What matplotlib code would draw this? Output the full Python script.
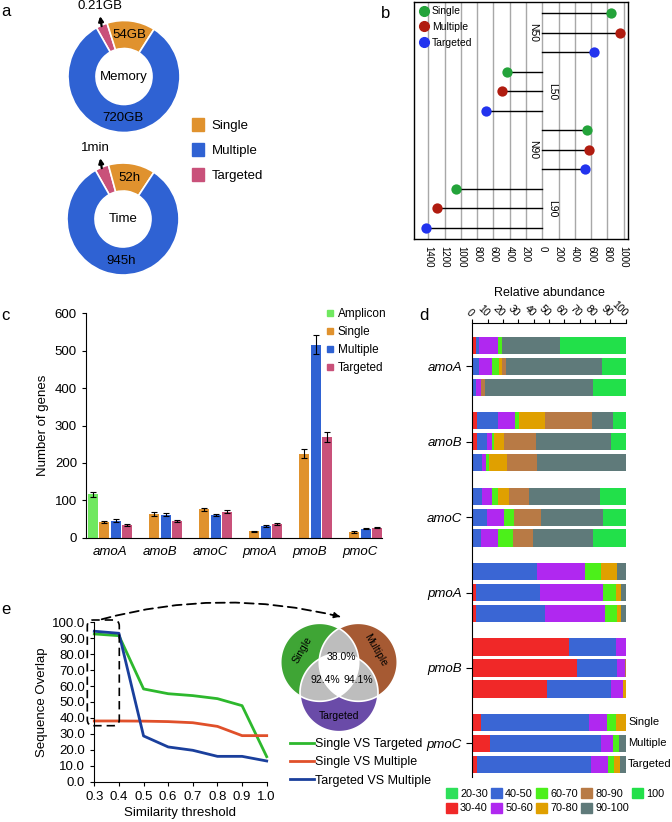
import numpy as np
import matplotlib
matplotlib.use('Agg')
import matplotlib.pyplot as plt
from matplotlib.patches import Patch, Polygon, FancyBboxPatch, FancyArrowPatch
from matplotlib.lines import Line2D

plt.rcParams['font.family'] = ['Liberation Sans', 'DejaVu Sans']

# ---------------- data ----------------
methods = ['Single', 'Multiple', 'Targeted']
# panel a (slice shares as drawn, labels as printed)
a_order = ['Targeted', 'Single', 'Multiple']
mem_shares = [3.3, 13.9, 82.8]
mem_labels = ['0.21GB', '54GB', '720GB']
time_shares = [4.0, 13.5, 82.5]
time_labels = ['1min', '52h', '945h']

# panel b
b_metrics = ['N50', 'L50', 'N90', 'L90']
b_direction = [1, -1, 1, -1]
b_single = [850, 431, 554, 1067]
b_multiple = [953, 496, 575, 1300]
b_targeted = [640, 697, 526, 1432]

# panel c
genes = ['amoA', 'amoB', 'amoC', 'pmoA', 'pmoB', 'pmoC']
c_amplicon = [116, np.nan, np.nan, np.nan, np.nan, np.nan]
c_amplicon_err = [6, 0, 0, 0, 0, 0]
c_single = [41, 64, 76, 17, 224, 15]
c_single_err = [3, 5, 4, 2, 12, 2]
c_multiple = [45, 62, 61, 32, 516, 24]
c_multiple_err = [4, 4, 3, 3, 25, 2]
c_targeted = [34, 44, 70, 37, 270, 27]
c_targeted_err = [2, 3, 5, 2, 13, 2]

# panel d : rows Single / Multiple / Targeted, columns = bins
d_bins = ['20-30', '30-40', '40-50', '50-60', '60-70', '70-80', '80-90', '90-100', '100']
d_amoA = [[0, 2.2, 2.4, 12.0, 2.6, 0, 0, 38.0, 42.8],
          [0, 0, 4.6, 8.5, 4.3, 2.0, 2.4, 63.0, 15.2],
          [0, 0, 2.4, 3.0, 0, 0, 2.8, 70.2, 21.6]]
d_amoB = [[0, 2.8, 13.7, 11.3, 2.6, 17.0, 30.4, 13.9, 8.3],
          [0, 3.3, 6.3, 3.0, 1.3, 6.7, 20.7, 49.1, 9.6],
          [0, 0, 6.5, 2.2, 2.2, 11.5, 19.8, 57.8, 0]]
d_amoC = [[0, 0, 6.5, 6.5, 3.7, 7.0, 13.3, 46.1, 16.9],
          [0, 0, 9.6, 11.3, 6.3, 0, 17.8, 40.2, 14.8],
          [0, 0, 5.7, 11.1, 9.8, 0, 12.8, 39.3, 21.3]]
d_pmoA = [[0, 0, 42.2, 31.3, 10.7, 10.2, 0, 5.6, 0],
          [0, 2.6, 41.3, 41.1, 8.9, 2.8, 0, 3.3, 0],
          [0, 2.4, 45.1, 39.3, 7.8, 2.4, 0, 3.0, 0]]
d_pmoB = [[0, 63.3, 30.4, 6.3, 0, 0, 0, 0, 0],
          [0, 68.5, 26.1, 4.8, 0, 0, 0.6, 0, 0],
          [0, 48.7, 41.5, 8.3, 0, 1.5, 0, 0, 0]]
d_pmoC = [[0, 5.7, 70.6, 11.7, 5.7, 6.3, 0, 0, 0],
          [0, 11.5, 72.3, 8.0, 3.9, 0, 0, 4.3, 0],
          [0, 3.3, 74.3, 10.9, 3.7, 3.9, 0, 3.9, 0]]
d_data = [d_amoA, d_amoB, d_amoC, d_pmoA, d_pmoB, d_pmoC]

# panel e
e_threshold = [0.3, 0.4, 0.5, 0.6, 0.7, 0.8, 0.9, 1.0]
e_single_vs_targeted = [92.7, 91.6, 58.2, 55.2, 54.0, 52.1, 47.7, 15.7]
e_single_vs_multiple = [38.1, 38.1, 38.0, 37.7, 37.0, 34.7, 28.9, 28.9]
e_targeted_vs_multiple = [94.4, 93.1, 28.7, 21.8, 19.7, 15.9, 15.9, 13.0]
venn_labels = ['38.0%', '92.4%', '94.1%']

# ---------------- styles ----------------
C_SINGLE = '#e0922e'
C_MULTI = '#2f62d3'
C_TARG = '#c9517a'
C_AMPL = '#70e860'
a_colors = {'Single': C_SINGLE, 'Multiple': C_MULTI, 'Targeted': C_TARG}
b_colors = ['#23a33a', '#b01c10', '#2233ee']
d_colors = ['#2ee05a', '#f02828', '#3a66d4', '#b028f0', '#4cf01a',
            '#e0a000', '#b87a45', '#5f7a7a', '#22e04a']

W, H = 672, 822
fig = plt.figure(figsize=(W / 100, H / 100), dpi=100)


def px_axes(l, t, r, b):
    return fig.add_axes([l / W, 1 - b / H, (r - l) / W, (b - t) / H])


def ftext(x, y, s, **kw):
    fig.text(x / W, 1 - y / H, s, **kw)


# ---------------- panel a ----------------
def donut(cx, cy, shares, labels, center, tdx):
    ax = px_axes(cx - 60, cy - 60, cx + 60, cy + 60)
    R = 56
    wedges, _ = ax.pie(shares, radius=R, startangle=119.5, counterclock=False,
                       colors=[a_colors[k] for k in a_order],
                       wedgeprops=dict(width=28, edgecolor='white', linewidth=1.2))
    ax.set_xlim(-60, 60)
    ax.set_ylim(-60, 60)
    ax.set_aspect('equal')
    ax.axis('off')
    for w, lab in zip(wedges[1:], labels[1:]):
        th = np.deg2rad((w.theta1 + w.theta2) / 2)
        ax.text(42 * np.cos(th), 42 * np.sin(th), lab, ha='center', va='center', fontsize=9.5)
    w = wedges[0]
    th = np.deg2rad((w.theta1 + w.theta2) / 2)
    tail = (R * np.cos(th), R * np.sin(th) - 1)
    head = (tail[0] - 1.5, tail[1] + 10)
    ax.annotate('', xy=head, xytext=tail, annotation_clip=False,
                arrowprops=dict(arrowstyle='-|>', lw=1.6, color='black', mutation_scale=7,
                                shrinkA=0, shrinkB=0))
    ax.text(head[0] + tdx, head[1] + 10, labels[0], ha='center', va='center', fontsize=9.5,
            clip_on=False)
    ax.text(0, 0, center, ha='center', va='center', fontsize=9.5)


donut(124, 76.5, mem_shares, mem_labels, 'Memory', 0)
donut(123, 219, time_shares, time_labels, 'Time', -5)

fig.legend(handles=[Patch(color=a_colors[m], label=m) for m in methods],
           loc='upper left', bbox_to_anchor=(192 / W, 1 - 118 / H), frameon=False,
           fontsize=9.5, handlelength=0.9, handleheight=1.1, labelspacing=0.85,
           handletextpad=0.6, borderaxespad=0, borderpad=0)

# ---------------- panel b ----------------
axb = px_axes(414, 2, 628, 239)
for gi in range(len(b_metrics)):
    for si, ser in enumerate([b_single, b_multiple, b_targeted]):
        y = gi * 3 + si
        v = b_direction[gi] * ser[gi]
        axb.plot([0, v], [y, y], color='black', lw=1, zorder=2)
        axb.scatter([v], [y], s=55, color=b_colors[si], zorder=3, linewidths=0)
    lx = -115 if b_direction[gi] > 0 else 118
    axb.text(lx, gi * 3 + 1, b_metrics[gi], rotation=-90, ha='center', va='center', fontsize=7.5)
axb.set_xlim(-1578, 1055)
axb.set_ylim(11.57, -0.58)
bt = np.arange(-1400, 1001, 200)
axb.set_xticks(bt)
axb.set_xticklabels([str(abs(t)) for t in bt], rotation=-90, fontsize=7)
axb.tick_params(axis='x', length=0, pad=5)
axb.set_yticks([])
axb.grid(axis='x', color='#a8a8a8', lw=1)
axb.set_axisbelow(True)
for s in axb.spines.values():
    s.set_linewidth(1)
axb.legend(handles=[Line2D([], [], marker='o', ls='', color=c, markersize=7, label=m)
                    for m, c in zip(methods, b_colors)],
           loc='upper left', frameon=False, fontsize=7.5, handletextpad=0.1,
           labelspacing=0.55, borderaxespad=0.2, handlelength=1.2, borderpad=0.2)

# ---------------- panel c ----------------
axc = px_axes(86, 313.3, 382, 537.7)
xg = np.arange(len(genes))
slot = 0.222
for k, (vals, errs, col) in enumerate([(c_amplicon, c_amplicon_err, C_AMPL),
                                       (c_single, c_single_err, C_SINGLE),
                                       (c_multiple, c_multiple_err, C_MULTI),
                                       (c_targeted, c_targeted_err, C_TARG)]):
    x = xg + (k - 1.5) * slot
    axc.bar(x, vals, width=0.2, color=col, yerr=errs, capsize=2,
            error_kw=dict(elinewidth=0.8, capthick=0.8, ecolor='black'))
axc.set_xlim(-0.48, 5.44)
axc.set_ylim(0, 600)
axc.set_yticks(np.arange(0, 601, 100))
axc.set_xticks(xg)
axc.set_xticklabels(genes, fontstyle='italic', fontsize=9.5)
axc.tick_params(axis='x', length=0, pad=6)
axc.tick_params(axis='y', labelsize=9.5, length=3)
axc.spines['top'].set_visible(False)
axc.spines['right'].set_visible(False)
axc.set_ylabel('Number of genes', fontsize=9.5)
fig.legend(handles=[Line2D([], [], marker='s', ls='', color=c, markersize=5, label=l)
                    for l, c in zip(['Amplicon'] + methods, [C_AMPL, C_SINGLE, C_MULTI, C_TARG])],
           loc='upper left', bbox_to_anchor=(326 / W, 1 - 308 / H), frameon=False,
           fontsize=8.5, handlelength=0.6, handletextpad=0.4, labelspacing=0.5,
           borderaxespad=0, borderpad=0)

# ---------------- panel d ----------------
axd = px_axes(472.3, 323.3, 625.7, 776.7)
gap = 3.6
for g, rows in enumerate(d_data):
    for r, row in enumerate(rows):
        y = g * gap + r
        left = 0
        for b, v in enumerate(row):
            if v > 0:
                axd.barh(y, v, left=left, height=0.82, color=d_colors[b], linewidth=0)
            left += v
axd.set_xlim(0, 100)
axd.set_ylim(5 * gap + 2.59, -1.05)
axd.xaxis.tick_top()
axd.xaxis.set_label_position('top')
axd.set_xticks(np.arange(0, 101, 10))
axd.set_xticklabels([str(t) for t in range(0, 101, 10)], rotation=-45, ha='right',
                    va='center', rotation_mode='anchor', fontsize=7.5)
axd.tick_params(axis='x', length=3, pad=3)
axd.set_xlabel('Relative abundance', fontsize=9, labelpad=2)
axd.set_yticks([g * gap + 1 for g in range(len(genes))])
axd.set_yticklabels(genes, fontstyle='italic', fontsize=9.5)
axd.tick_params(axis='y', length=4)
axd.spines['right'].set_visible(False)
axd.spines['bottom'].set_visible(False)
for r, m in enumerate(methods):
    axd.text(101.5, 5 * gap + r, m, ha='left', va='center', fontsize=8, clip_on=False)
fig.legend(handles=[Patch(color=c, label=l) for l, c in zip(d_bins, d_colors)],
           loc='upper left', bbox_to_anchor=(446 / W, 1 - 788 / H), ncol=5, frameon=False,
           fontsize=7.8, handlelength=1.0, handleheight=1.0, handletextpad=0.3,
           columnspacing=0.3, labelspacing=0.4, borderaxespad=0, borderpad=0)

# ---------------- panel e ----------------
axe = px_axes(94.3, 622.3, 266.7, 781.7)
axe.plot(e_threshold, e_single_vs_targeted, color='#2db82d', lw=2, label='Single VS Targeted', clip_on=False)
axe.plot(e_threshold, e_single_vs_multiple, color='#e0502a', lw=2, label='Single VS Multiple', clip_on=False)
axe.plot(e_threshold, e_targeted_vs_multiple, color='#1a3f9c', lw=2, label='Targeted VS Multiple', clip_on=False)
axe.set_xlim(0.3, 1.0)
axe.set_ylim(0, 100)
axe.set_yticks(np.arange(0, 101, 10))
axe.set_yticklabels(['%.1f' % v for v in np.arange(0, 101, 10)])
axe.set_xticks(e_threshold)
axe.set_xticklabels(['%.1f' % v for v in e_threshold])
axe.tick_params(labelsize=9.5, length=3)
axe.spines['top'].set_visible(False)
axe.spines['right'].set_visible(False)
axe.set_xlabel('Similarity threshold', fontsize=9.5, labelpad=3)
axe.set_ylabel('Sequence Overlap', fontsize=9.5, labelpad=3)
h, l = axe.get_legend_handles_labels()
fig.legend(h, l, loc='upper left', bbox_to_anchor=(290 / W, 1 - 738 / H), frameon=False,
           fontsize=9, handlelength=1.9, handletextpad=0.1, labelspacing=0.5,
           borderaxespad=0, borderpad=0)

# dashed rounded box & curved arrow (inches coordinates)
tr = fig.dpi_scale_trans
fig.patches.append(FancyBboxPatch((87.3 / 100, (H - 725.7) / 100), 32 / 100, 105.7 / 100,
                                  boxstyle='round,pad=0,rounding_size=0.06', fill=False,
                                  ec='black', lw=1.2, ls=(0, (5, 3)), transform=tr))
pA = np.array([101.7, H - 619.3]) / 100
pB = np.array([340.0, H - 616.7]) / 100
rad = -0.13
fig.patches.append(FancyArrowPatch(pA, pB, connectionstyle='arc3,rad=%g' % rad,
                                   arrowstyle='-', lw=1.3, ls=(0, (5, 3)), color='black',
                                   transform=tr, shrinkA=0, shrinkB=0))
mid = (pA + pB) / 2
dxy = pB - pA
ctrl = np.array([mid[0] + rad * dxy[1], mid[1] - rad * dxy[0]])
tan = pB - ctrl
tan = tan / np.hypot(*tan)
fig.patches.append(FancyArrowPatch(pB - tan * 0.07, pB, arrowstyle='-|>', mutation_scale=9,
                                   lw=1, color='black', transform=tr, shrinkA=0, shrinkB=0))

# venn diagram
axv = px_axes(270, 612, 410, 742)
axv.set_xlim(270, 410)
axv.set_ylim(742, 612)
axv.axis('off')
Rv = 39
centers = [(319.7, 662.3), (358.3, 662.3), (339.0, 692.7)]
vcols = ['#3fa535', '#a65a33', '#6a4ba8']
t = np.linspace(0, 2 * np.pi, 240, endpoint=False)
circles = [[(cx + Rv * np.cos(a), cy + Rv * np.sin(a)) for a in t] for cx, cy in centers]


def clip_poly(subject, clipper):
    out = list(subject)
    n = len(clipper)
    for i in range(n):
        a = clipper[i]
        b = clipper[(i + 1) % n]
        inp = out
        out = []
        if not inp:
            break

        def inside(p):
            return (b[0] - a[0]) * (p[1] - a[1]) - (b[1] - a[1]) * (p[0] - a[0]) >= 0

        def inter(p, q):
            x1, y1 = p; x2, y2 = q; x3, y3 = a; x4, y4 = b
            den = (x1 - x2) * (y3 - y4) - (y1 - y2) * (x3 - x4)
            tt = ((x1 - x3) * (y3 - y4) - (y1 - y3) * (x3 - x4)) / den
            return (x1 + tt * (x2 - x1), y1 + tt * (y2 - y1))

        s = inp[-1]
        for e in inp:
            if inside(e):
                if not inside(s):
                    out.append(inter(s, e))
                out.append(e)
            elif inside(s):
                out.append(inter(s, e))
            s = e
    return out


for poly, c in zip(circles, vcols):
    axv.add_patch(Polygon(poly, closed=True, fc=c, ec='none'))
for i, j in [(0, 1), (0, 2), (1, 2)]:
    axv.add_patch(Polygon(clip_poly(circles[i], circles[j]), closed=True, fc='#bdbdbd', ec='none'))
axv.add_patch(Polygon(clip_poly(clip_poly(circles[0], circles[1]), circles[2]), closed=True,
                      fc='white', ec='none'))
for poly in circles:
    axv.add_patch(Polygon(poly, closed=True, fill=False, ec='white', lw=1.2))
axv.text(341.7, 656.7, venn_labels[0], ha='center', va='center', fontsize=7.5)
axv.text(325.7, 680, venn_labels[1], ha='center', va='center', fontsize=7.5)
axv.text(358.5, 680, venn_labels[2], ha='center', va='center', fontsize=7.5)
axv.text(302.5, 650, 'Single', rotation=60, ha='center', va='center', fontsize=7.5)
axv.text(375.5, 650, 'Multiple', rotation=-60, ha='center', va='center', fontsize=7.5)
axv.text(339, 715.7, 'Targeted', ha='center', va='center', fontsize=7.5)

# panel letters
for letter, (x, y) in zip('abcde', [(1, 12), (381, 13), (1, 316), (419, 315), (1, 610)]):
    ftext(x, y, letter, fontsize=12, ha='left', va='center')

fig.savefig('out.png', dpi=100)
